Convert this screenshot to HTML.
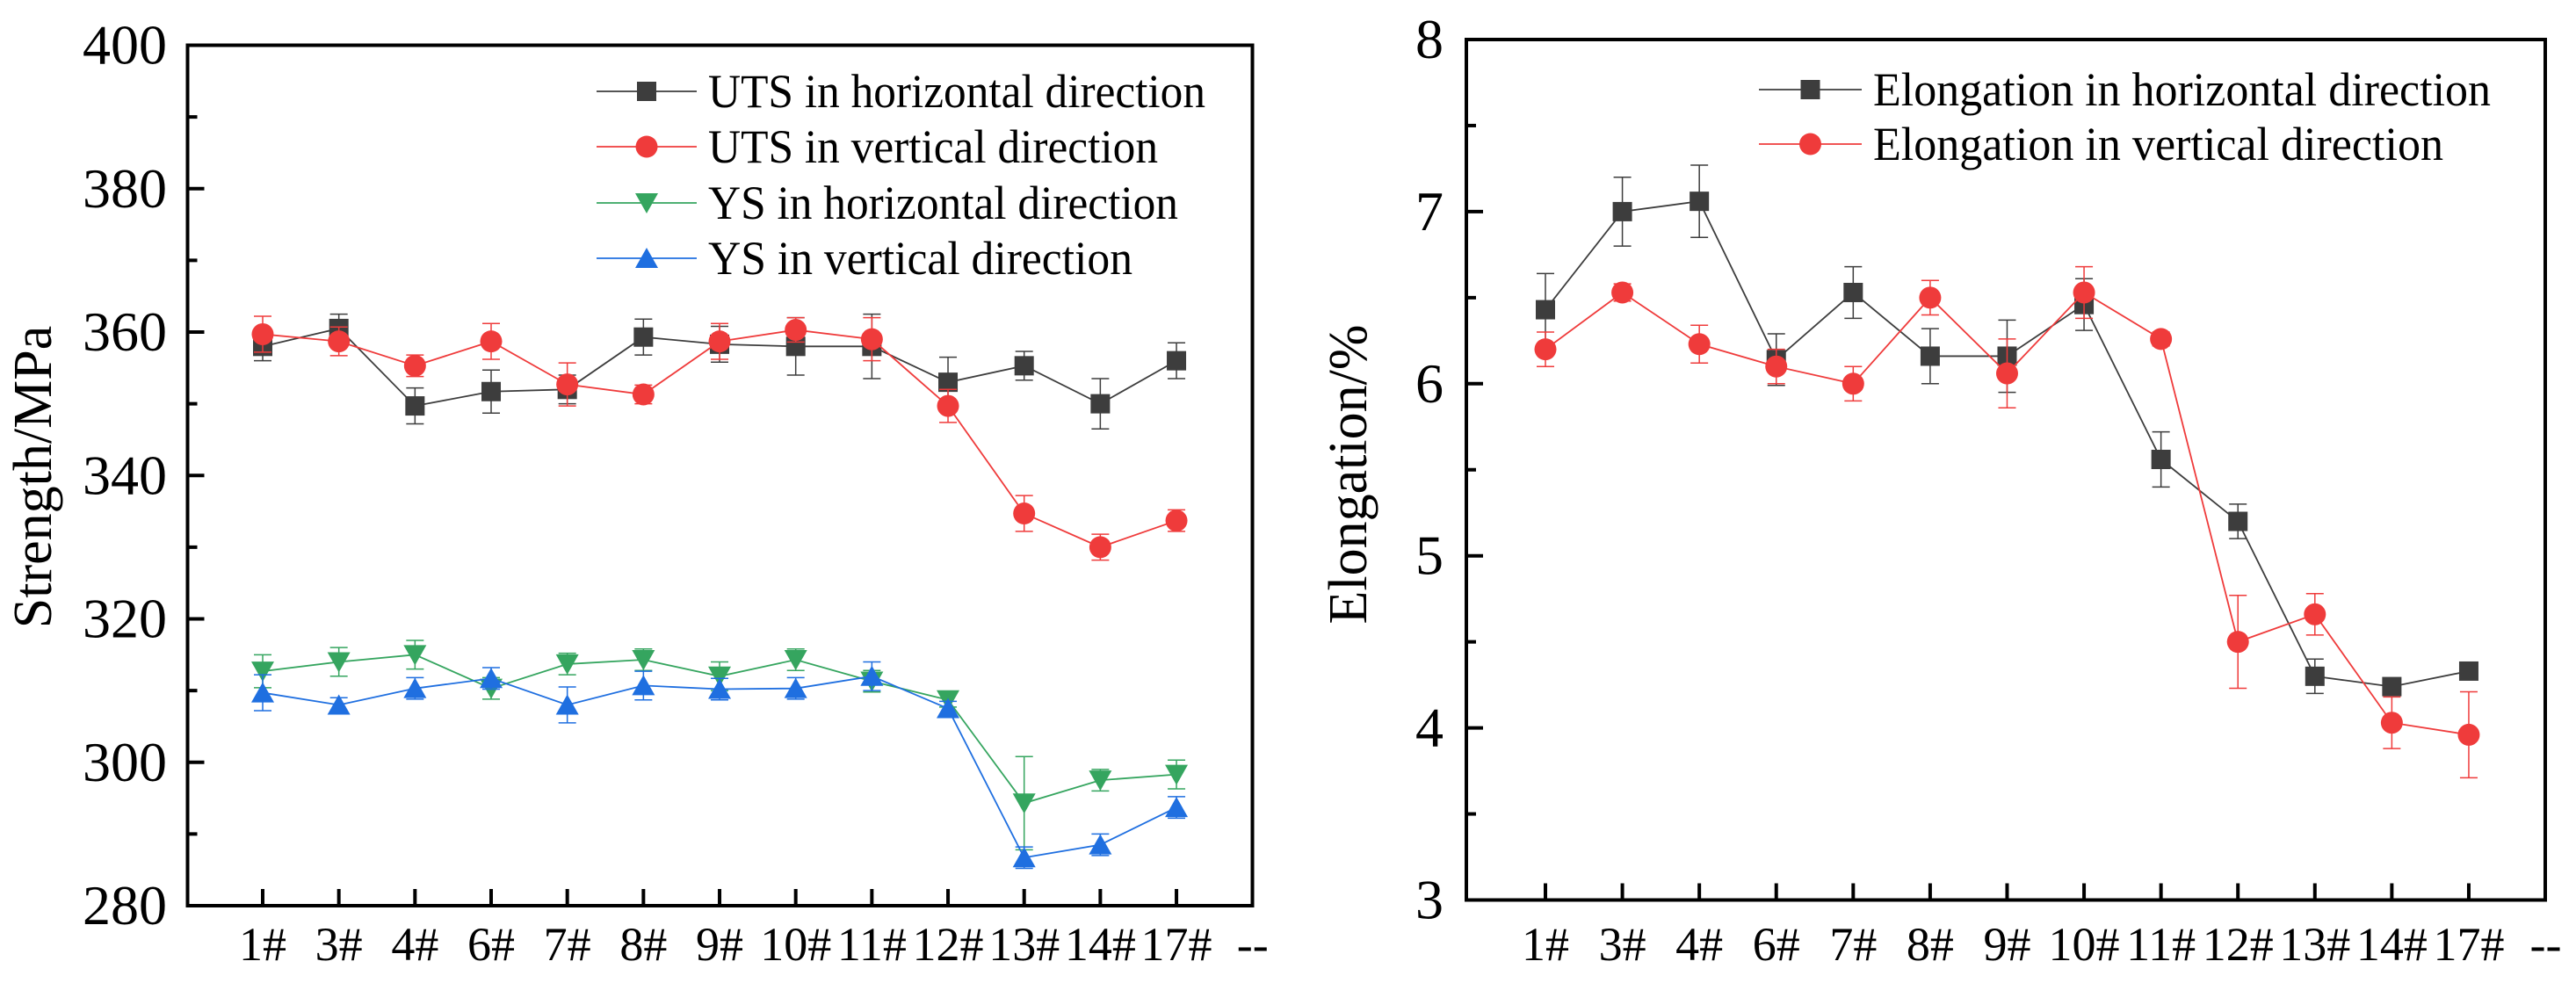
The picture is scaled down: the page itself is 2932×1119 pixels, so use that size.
<!DOCTYPE html>
<html><head><meta charset="utf-8"><style>
html,body{margin:0;padding:0;background:#fff;}
svg{display:block;font-family:"Liberation Serif",serif;}
svg text{font-family:"Liberation Serif",serif;}
</style></head><body>
<svg id="chart" width="2932" height="1119" viewBox="0 0 2932 1119" xmlns="http://www.w3.org/2000/svg">
<rect width="2932" height="1119" fill="#fff"/>
<g id="left"></g>
<g id="right"></g>
</svg>
<script>
const categories = ["1#","3#","4#","6#","7#","8#","9#","10#","11#","12#","13#","14#","17#","--"];
const utsH = [358,360.5,349.7,351.7,352,359.3,358.3,358,358,353,355.3,350,356];
const utsHErr = [2,2,2.5,3,2,2.5,2.5,4,4.5,3.5,2,3.5,2.5];
const utsV = [359.7,358.7,355.3,358.7,352.7,351.3,358.7,360.3,359,349.7,334.7,330,333.7];
const utsVErr = [2.5,2,1.5,2.5,3,1.3,2.5,1.7,3,2.3,2.5,1.8,1.5];
const ysH = [312.7,314,315,310.3,313.7,314.3,312,314.3,311.3,308.7,294.3,297.5,298.3];
const ysHErr = [2.3,2,2,1.5,1.5,1.5,2,1.5,1.5,1,6.5,1.5,2];
const ysV = [309.7,308,310.3,311.7,308,310.7,310.2,310.3,312,307.5,286.7,288.5,293.7];
const ysVErr = [2.5,1,1.5,1.5,2.5,2,1.5,1.5,2,1,1.5,1.5,1.5];
const elH = [6.43,7.0,7.06,6.14,6.53,6.16,6.16,6.46,5.56,5.20,4.30,4.24,4.33];
const elHErr = [0.21,0.2,0.21,0.15,0.15,0.16,0.21,0.15,0.16,0.1,0.1,0.05,0.05];
const elV = [6.20,6.53,6.23,6.10,6.0,6.50,6.06,6.53,6.26,4.50,4.66,4.03,3.96];
const elVErr = [0.1,0.05,0.11,0.1,0.1,0.1,0.2,0.15,0.04,0.27,0.12,0.15,0.25];
const leftTicks = [280,300,320,340,360,380,400];
const rightTicks = [3,4,5,6,7,8];

const NS="http://www.w3.org/2000/svg";
const FF='"Liberation Serif", serif';
function mk(parent,tag,attrs,text){const e=document.createElementNS(NS,tag);for(const k in attrs)e.setAttribute(k,attrs[k]);if(tag==="text")e.setAttribute("font-family",FF);if(text!==undefined)e.textContent=text;parent.appendChild(e);return e;}

function marker(g,shape,x,y,color){
  let e;
  if(shape==="square"){e=mk(g,"rect",{x:x-11,y:y-11,width:22,height:22,fill:color});}
  else if(shape==="circle"){e=mk(g,"circle",{cx:x,cy:y,r:12.5,fill:color});}
  else if(shape==="down"){e=mk(g,"polygon",{points:`${x-13},${y-11} ${x+13},${y-11} ${x},${y+12}`,fill:color});}
  else {e=mk(g,"polygon",{points:`${x-13},${y+11} ${x+13},${y+11} ${x},${y-12}`,fill:color});}
  return e;
}

function panel(g,cfg){
  const {x0,x1,y0,y1,xs,ys,ticks,minor,series,title,titleX,titleY,labelRight,legendLine,legendText,legendY} = cfg;
  series.forEach((s,si)=>{
    const sg=mk(g,"g",{});
    
    
    s.vals.forEach((v,i)=>{
      const x=xs(i),yt=ys(v+s.err[i]),yb=ys(v-s.err[i]);
      const eb=mk(sg,"path",{d:`M${x},${yt}V${yb}M${x-10},${yt}H${x+10}M${x-10},${yb}H${x+10}`,stroke:s.color,"stroke-width":1.5,fill:"none"});
      
      
    });
    const pts=s.vals.map((v,i)=>xs(i)+","+ys(v)).join(" ");
    const ln=mk(sg,"polyline",{points:pts,fill:"none",stroke:s.color,"stroke-width":1.8});
    
    
    s.vals.forEach((v,i)=>{
      const m=marker(sg,s.shape,xs(i),ys(v),s.color);
      
      
    });
  });
  const fr=mk(g,"rect",{x:x0,y:y0,width:x1-x0,height:y1-y0,fill:"none",stroke:"#000","stroke-width":4});
  
  
  ticks.forEach((t,i)=>{
    const y=ys(t);
    const tk=mk(g,"line",{x1:x0,x2:x0+19,y1:y,y2:y,stroke:"#000","stroke-width":4});
    
    
    const lb=mk(g,"text",{x:labelRight,y:y+21,"text-anchor":"end","font-size":64},String(t));
    
    
    if(i<ticks.length-1){
      const ym=ys(t+minor);
      const mt=mk(g,"line",{x1:x0,x2:x0+11,y1:ym,y2:ym,stroke:"#000","stroke-width":4});
      
      
    }
  });
  categories.forEach((c,i)=>{
    const x=xs(i);
    if(i<categories.length-1){
      const tk=mk(g,"line",{x1:x,x2:x,y1:y1,y2:y1-19,stroke:"#000","stroke-width":4});
      
      
    }
    const lb=mk(g,"text",{x:x,y:1093,"text-anchor":"middle","font-size":54},c);
    
    
  });
  const tt=mk(g,"text",{x:0,y:0,"text-anchor":"middle","font-size":62,transform:`translate(${titleX},${titleY}) rotate(-90)`},title);
  
  
  series.forEach((s,i)=>{
    const lg=mk(g,"g",{});
    
    
    const y=legendY[i];
    mk(lg,"line",{x1:legendLine[0],x2:legendLine[1],y1:y,y2:y,stroke:s.color,"stroke-width":1.8});
    marker(lg,s.shape,(legendLine[0]+legendLine[1])/2,y,s.color);
    mk(lg,"text",{x:legendText,y:y+18,"font-size":54,textLength:s.tl,lengthAdjust:"spacingAndGlyphs"},s.label);
  });
}

const xL=i=>299+i*86.67, yL=v=>1031-(v-280)*8.1625;
panel(document.getElementById("left"),{
  x0:213.5,x1:1425.5,y0:51.5,y1:1031,xs:xL,ys:yL,ticks:leftTicks,minor:10,labelRight:190,
  title:"Strength/MPa",titleX:58,titleY:543,
  legendLine:[679,793],legendText:806,legendY:[104,167,231,294],
  series:[
    {name:"uts-horizontal-series",label:"UTS in horizontal direction",vals:utsH,err:utsHErr,color:"#3d3d3d",shape:"square",tl:566},
    {name:"uts-vertical-series",label:"UTS in vertical direction",vals:utsV,err:utsVErr,color:"#ef3b3b",shape:"circle",tl:512},
    {name:"ys-horizontal-series",label:"YS in horizontal direction",vals:ysH,err:ysHErr,color:"#35a55f",shape:"down",tl:535},
    {name:"ys-vertical-series",label:"YS in vertical direction",vals:ysV,err:ysVErr,color:"#1f6fe0",shape:"up",tl:483}
  ]
});
const xR=i=>1759+i*87.58, yR=v=>1024.5-(v-3)*195.9;
panel(document.getElementById("right"),{
  x0:1669,x1:2897,y0:45,y1:1024.5,xs:xR,ys:yR,ticks:rightTicks,minor:0.5,labelRight:1643,
  title:"Elongation/%",titleX:1555,titleY:540,
  legendLine:[2002,2119],legendText:2132,legendY:[102,164],
  series:[
    {name:"elongation-horizontal-series",label:"Elongation in horizontal direction",vals:elH,err:elHErr,color:"#3d3d3d",shape:"square",tl:703},
    {name:"elongation-vertical-series",label:"Elongation in vertical direction",vals:elV,err:elVErr,color:"#ef3b3b",shape:"circle",tl:649}
  ]
});
</script>
</body></html>
